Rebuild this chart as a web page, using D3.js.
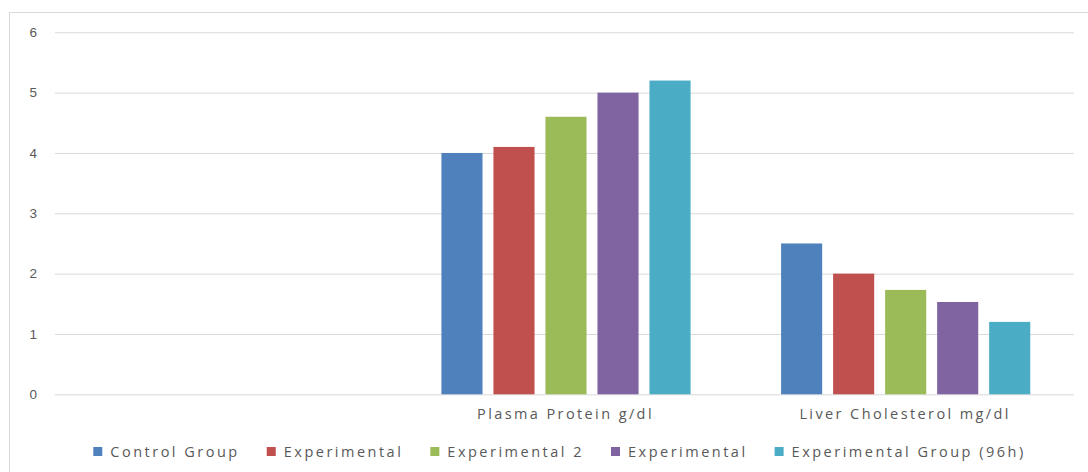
<!DOCTYPE html>
<html lang="en">
<head>
    <meta charset="UTF-8">
    <title>Plasma Protein and Liver Cholesterol</title>
    <script src="https://d3js.org/d3.v7.min.js"></script>
    <style>
        body {
            margin: 0;
            background: #fff;
            font-family: "Open Sans", sans-serif;
        }
        .tick text {
            fill: #595959;
            font-size: 13.5px;
        }
        .label {
            fill: #595959;
            font-size: 14.5px;
            letter-spacing: 2.4px;
        }
        .legend-label {
            letter-spacing: 2.5px;
        }
    </style>
</head>
<body>
    <svg id="chart"></svg>

    <script>
        // data
        const categories = ["", "Plasma Protein g/dl", "Liver Cholesterol mg/dl"];
        const seriesNames = ["Control Group", "Experimental", "Experimental 2", "Experimental", "Experimental Group (96h)"];
        const controlGroup = [null, 4.0, 2.5];
        const experimental1 = [null, 4.1, 2.0];
        const experimental2 = [null, 4.6, 1.73];
        const experimental3 = [null, 5.0, 1.53];
        const experimental96h = [null, 5.2, 1.2];
        const yTicks = [0, 1, 2, 3, 4, 5, 6];
        const colors = ["#4f81bd", "#c0504d", "#9bbb59", "#8064a2", "#4bacc6"];

        const seriesValues = [controlGroup, experimental1, experimental2, experimental3, experimental96h];

        const width = 1088;
        const height = 472;
        const plot = { left: 55, right: 1074, top: 32.3, bottom: 394.3 };

        const svg = d3.select("#chart")
            .attr("width", width)
            .attr("height", height);

        // chart frame (cut off at right and bottom in the original)
        svg.append("rect")
            .attr("x", 9.5)
            .attr("y", 12.5)
            .attr("width", width + 20)
            .attr("height", height + 20)
            .attr("fill", "none")
            .attr("stroke", "#d9d9d9");

        const x0 = d3.scaleBand()
            .domain(d3.range(categories.length))
            .range([plot.left, plot.right]);

        const x1 = d3.scaleBand()
            .domain(d3.range(seriesNames.length))
            .range([0, x0.bandwidth()])
            .paddingInner(0.21)
            .paddingOuter(0.87);

        const y = d3.scaleLinear()
            .domain([0, 6])
            .range([plot.bottom, plot.top]);

        // gridlines + y labels
        const yAxis = svg.append("g")
            .attr("transform", `translate(${plot.left},0)`)
            .call(d3.axisLeft(y)
                .tickValues(yTicks)
                .tickSize(-(plot.right - plot.left))
                .tickPadding(18)
                .tickFormat(d3.format("d")));
        yAxis.select(".domain").remove();
        yAxis.selectAll(".tick line")
            .attr("stroke", "#d9d9d9");

        // bars
        const groups = svg.append("g")
            .selectAll("g")
            .data(seriesValues)
            .join("g")
            .attr("fill", (d, i) => colors[i]);

        groups.each(function (values, s) {
            d3.select(this).selectAll("rect")
                .data(values.map((v, c) => ({ v, c })).filter(d => d.v != null))
                .join("rect")
                .attr("x", d => x0(d.c) + x1(s) + 1.5)
                .attr("y", d => y(d.v))
                .attr("width", x1.bandwidth())
                .attr("height", d => y(0) - y(d.v));
        });

        // category labels
        svg.append("g")
            .selectAll("text")
            .data(categories)
            .join("text")
            .attr("class", "label")
            .attr("x", (d, i) => x0(i) + x0.bandwidth() / 2 + 1)
            .attr("y", 418.5)
            .attr("text-anchor", "middle")
            .text(d => d);

        // legend
        const legend = svg.append("g");
        const items = legend.selectAll("g")
            .data(seriesNames)
            .join("g");
        items.append("rect")
            .attr("y", 447)
            .attr("width", 9)
            .attr("height", 9)
            .attr("fill", (d, i) => colors[i]);
        items.append("text")
            .attr("class", "label legend-label")
            .attr("x", 17)
            .attr("y", 457)
            .text(d => d);

        const gap = 27;
        let offset = 0;
        items.each(function () {
            const w = 17 + d3.select(this).select("text").node().getComputedTextLength();
            d3.select(this).attr("transform", `translate(${offset},0)`);
            offset += w + gap;
        });
        const total = offset - gap;
        legend.attr("transform", `translate(${(plot.left + plot.right) / 2 - 5 - total / 2},0)`);
    </script>
</body>
</html>
